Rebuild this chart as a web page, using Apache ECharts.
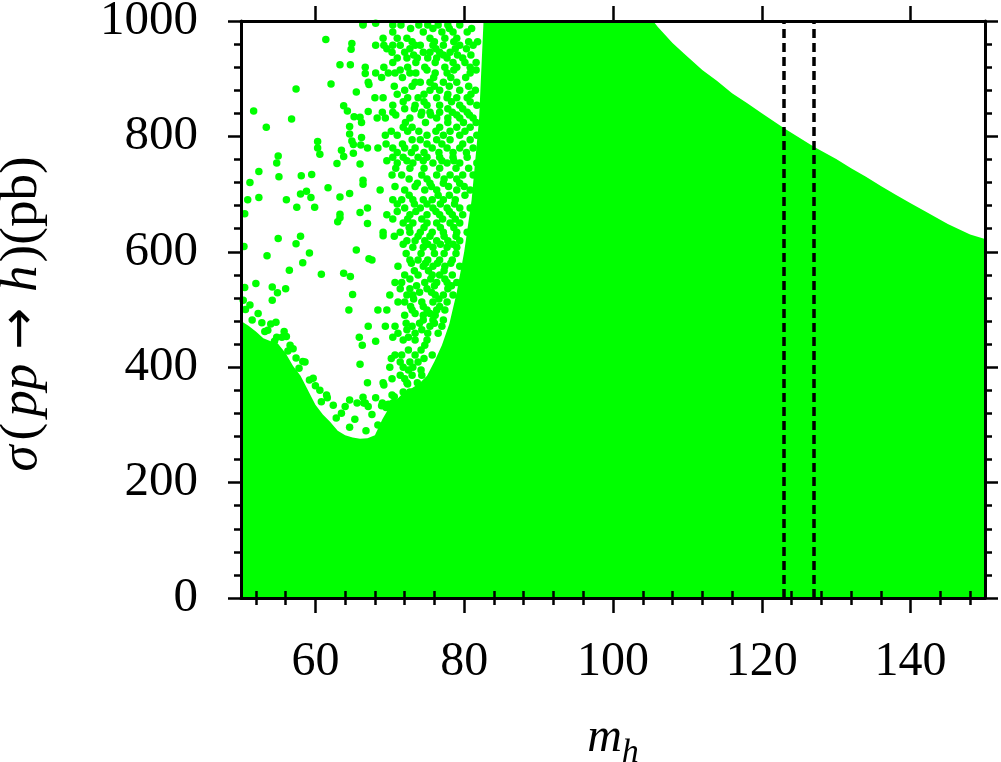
<!DOCTYPE html>
<html><head><meta charset="utf-8">
<script src="https://cdn.jsdelivr.net/npm/echarts@6/dist/echarts.min.js"></script>
<style>html,body{margin:0;padding:0;background:#fff}#c{width:1001px;height:762px}</style>
</head><body><div id="c"></div>
<script>
// ---- tick values ----
const xMajorTicks = [60, 80, 100, 120, 140];
const xMinorTicks = [52, 56, 64, 68, 72, 76, 84, 88, 92, 96, 104, 108, 112, 116, 124, 128, 132, 136, 144, 148];
const dashedMh = [123, 127];

// ---- upper envelope of the dense (solid) region ----
const boundaryMh = [50, 51, 52, 53, 54, 55, 56, 57, 58, 59, 60, 61, 62, 63, 64, 65, 66, 67, 68, 69, 70, 71, 72, 73, 74, 75, 76, 77, 78, 79, 80, 81, 82, 82.6, 105.4, 106, 108, 109.5, 112, 114, 116, 118, 120, 123, 127, 130, 132, 134, 136, 138, 140, 142, 145, 148, 150];
const boundarySigma = [480, 472, 462, 450, 445, 440, 424, 402, 385, 360, 335, 318, 305, 290, 282, 278, 276, 277, 282, 310, 332, 345, 358, 364, 372, 385, 410, 438, 475, 530, 600, 690, 830, 1000, 1000, 990, 962, 944, 915, 896, 875, 858, 840, 814, 782, 761, 745, 730, 714, 699, 684, 670, 648, 630, 622];

// ---- isolated points in the sparse region (m_h, sigma) ----
const sparseDots = [
[61.4,968],[64.9,961],[64.8,951],[63.3,924],[64.7,924],[66.7,920],[66.7,909],[57.4,882],[62.1,891],[67.2,890],
[65.5,877],[51.7,844],[56.8,830],[53.4,816],[63.8,853],[64.3,844],[65.2,834],[66.0,833],[67.1,843],[66.2,824],
[64.6,817],[64.6,804],[66.2,798],[64.9,792],[65.1,786],[66.1,785],[67.0,780],[60.3,791],[60.3,780],[60.6,769],
[63.5,776],[65.1,771],[63.8,765],[55.0,766],[54.8,754],[62.9,753],[66.0,752],[52.4,739],[58.1,732],[59.5,734],
[55.1,730],[51.2,720],[66.4,724],[66.4,717],[61.7,711],[58.8,705],[58.0,700],[59.4,694],[64.6,701],[63.3,695],
[52.4,694],[50.9,690],[56.1,690],[57.5,677],[59.9,677],[67.0,676],[50.5,666],[63.3,665],[63.3,659],[66.0,668],
[63.0,652],[67.0,649],[55.0,623],[58.0,627],[57.4,614],[50.4,609],[59.2,598],[53.5,593],[65.5,603],[58.3,581],
[67.2,588],[56.5,568],[60.8,561],[63.8,563],[64.7,557],[52.0,545],[54.2,539],[56.0,536],[50.5,538],[54.9,529],
[54.2,516],[65.0,526],[64.5,499],[67.1,471],[54.7,478],[56.1,453],[54.5,445],[65.9,452],[66.0,405],[67.0,373],
[64.6,343],[65.6,338],[66.5,338],[64.0,332],[66.4,995],[68.1,996],[69.1,628],[68.1,445],[69.2,369],[72.4,371],
[68.1,347],[70.6,349],[67.1,332],[68.9,333],[69.8,336],[70.7,338],
[50.3,516],[51.2,508],[52.8,477],[53.6,464],[55.5,452],[56.6,438],[57.4,416],[58.6,409],[59.7,381],[60.6,360],
[61.6,347],[62.4,334],
[50.6,500],[51.5,482],[52.3,493],[53.2,462],[54.0,475],[54.8,452],[55.8,462],[56.3,428],[57.0,432],[57.8,398],
[58.3,410],[59.2,378],[60.0,368],[60.8,340],[61.5,352],[62.8,312],[63.5,320],[64.6,296],[65.3,310],[66.8,290],
[67.6,318],[68.4,300],[69.5,330],[70.3,352]
];

// ---- the dense point cloud, read row by row: [sigma, [m_h ...]] ----
const cloudRows = [
[993,[66.4,70.4,71.5,73.9,75.1,76.5,77.8,79.4]],
[987,[72.8,75.8,78.0,81.0]],
[981,[70.4,74.5,77.0,78.5,80.4]],
[970,[69.1,71.0,72.3,75.4,77.4,79.0]],
[964,[73.0,76.0,78.6,80.6,81.8]],
[958,[68.1,69.2,70.4,71.4,73.4,74.1,75.8,77.2,79.4,81.2]],
[952,[69.6,72.7,76.2,78.8,80.3]],
[946,[70.3,72.0,74.5,75.4,76.7,78.1]],
[941,[73.2,77.2,79.1,80.9]],
[936,[71.0,72.3,73.7,75.1,76.3,77.7,79.8]],
[928,[70.4,73.5,76.1,78.5,80.1,81.6]],
[920,[69.2,72.4,74.7,77.4,79.0,80.8]],
[915,[71.4,75.0,78.6,81.6]],
[910,[68.1,69.8,70.7,72.7,73.5,76.1,77.7,80.8]],
[902,[68.9,71.7,75.9,78.2,80.2]],
[894,[67.1,73.4,74.1,75.4,77.2,79.0]],
[887,[70.6,73.0,76.0,78.0,80.6]],
[880,[72.0,75.4,76.7,79.4,81.5]],
[873,[71.0,74.6,77.8,80.9]],
[867,[68.0,69.1,72.4,73.8,76.3,77.7,79.0,80.4]],
[860,[71.8,74.6,78.3,80.8]],
[854,[70.4,73.4,75.0,76.7,79.4,81.7]],
[848,[72.0,73.3,77.8,79.8]],
[842,[69.0,70.4,74.3,75.4,76.7,78.4,80.4]],
[837,[70.8,74.2,75.5,79.0,80.7]],
[832,[68.3,69.4,72.7,76.3,77.8,79.4,81.2]],
[824,[72.1,74.8,77.8,79.9,81.6]],
[816,[71.8,73.0,76.7,79.0,80.8]],
[809,[70.2,72.4,73.9,76.2,78.1,80.1]],
[802,[69.4,71.0,75.0,77.2,79.4,81.7]],
[794,[73.0,74.1,76.3,78.1,80.8]],
[787,[69.5,71.7,75.0,77.0,79.8]],
[780,[68.4,70.4,72.0,73.4,75.7,77.7,79.4,81.2]],
[772,[71.0,72.9,74.6,76.6,78.5,80.3]],
[764,[70.4,71.8,73.8,75.0,76.7,78.5,80.4]],
[758,[69.6,72.3,74.5,77.0,78.6]],
[754,[71.0,73.1,75.8,77.7,79.4,81.7]],
[745,[70.8,72.7,74.6,76.7,78.9,80.6]],
[733,[70.3,71.6,74.3,76.3,78.1,79.8,81.2]],
[726,[72.6,75.0,77.3,79.0]],
[719,[73.7,75.4,77.2,79.4,82.1]],
[713,[70.7,73.4,75.6,77.9,80.0]],
[707,[68.7,72.0,74.7,76.3,79.0,80.8]],
[698,[72.6,76.5,78.0,80.1]],
[690,[70.4,71.6,73.1,74.5,75.7,77.2,78.8,81.7]],
[683,[71.0,73.3,75.0,76.8,78.7]],
[676,[72.0,74.1,75.8,77.7,79.4,80.8]],
[670,[71.0,73.5,76.2,78.0]],
[664,[69.6,72.7,75.0,76.7,78.4,79.8,81.7]],
[657,[70.4,72.4,74.3,77.1,78.8]],
[650,[71.8,73.1,75.0,76.3,78.1,79.4,81.2]],
[642,[72.6,74.6,76.8,78.6]],
[634,[69.1,71.4,72.7,74.1,75.7,77.2,79.0,80.4]],
[627,[70.6,73.8,75.4,77.3,78.9]],
[619,[72.3,73.4,74.7,76.3,77.8,79.4]],
[613,[71.8,75.1,76.8,78.5]],
[608,[73.1,74.5,75.8,77.7,79.0,80.8]],
[597,[72.2,74.2,76.0,77.3,78.9]],
[586,[67.6,72.7,73.8,75.1,76.7,78.4,80.4]],
[580,[72.9,74.8,76.4,78.2]],
[575,[71.1,74.5,75.8,77.4,79.4]],
[567,[73.3,75.2,77.3]],
[560,[72.0,73.8,75.7,76.7,78.4]],
[553,[72.7,75.5,77.4]],
[547,[70.7,71.6,74.7,76.3,77.7,79.0]],
[541,[73.6,76.0,78.3]],
[536,[71.4,72.7,75.0,77.8]],
[530,[74.0,75.6]],
[525,[70.0,72.3,73.1,76.1,77.2,78.5]],
[518,[73.2,76.6]],
[513,[71.1,72.0,74.3,75.8,77.7]],
[505,[72.8,74.5,76.7]],
[499,[68.4,69.6,73.0,75.0,76.3,77.4]],
[493,[73.4,75.4]],
[490,[72.0,74.5,76.1]],
[482,[74.5,75.8,77.2]],
[476,[72.2,74.0,76.0]],
[471,[69.4,70.7,73.0,75.4,77.0]],
[465,[72.3,74.3]],
[459,[71.1,73.4,75.1,76.5]],
[452,[70.4,72.5]],
[447,[71.8,73.4,75.0]],
[438,[66.3,74.7]],
[430,[72.5,74.2]],
[421,[70.7,71.6,73.4,75.7]],
[415,[70.2,74.6]],
[409,[71.4,72.7,73.8]],
[400,[70.0,71.8,73.1]],
[395,[72.5,74.2]],
[386,[71.4,73.0,74.3]],
[380,[70.3,72.0]],
[373,[69.1,72.3,73.7]],
[357,[71.8,72.7]],
[348,[66.4]],
[338,[66.7,69.0,70.4]]
];

// ---- build ----
const GREEN = '#00ff00';
const FONT = '"Liberation Serif","DejaVu Serif",serif';
const areaData = boundaryMh.map((m, i) => [m, boundarySigma[i]]);
const dotData = sparseDots.slice();
cloudRows.forEach(r => r[1].forEach(m => dotData.push([m, r[0]])));

const tickStyle = {color: '#000', width: 2.5};
const lineStyle = {color: '#000', width: 3};
function xAx(pos, ticks, len, opts) {
  return Object.assign({
    type: 'value', position: pos, min: 50, max: 150, z: 10,
    axisLine: {show: false},
    axisTick: {show: true, inside: false, length: len, lineStyle: tickStyle, customValues: ticks},
    axisLabel: {show: false, customValues: ticks},
    splitLine: {show: false}
  }, opts || {});
}
function yAx(pos, opts) {
  return Object.assign({
    type: 'value', position: pos, min: 0, max: 1000, interval: 200, z: 10,
    axisLine: {show: true, onZero: false, lineStyle: lineStyle},
    axisTick: {show: true, inside: false, length: 13, lineStyle: tickStyle},
    minorTick: {show: true, splitNumber: 5, length: 7, lineStyle: tickStyle},
    axisLabel: {show: false},
    splitLine: {show: false}
  }, opts || {});
}

const chart = echarts.init(document.getElementById('c'), null, {renderer: 'canvas'});
chart.setOption({
  animation: false,
  backgroundColor: '#fff',
  grid: {left: 241, right: 16, top: 21, bottom: 164, containLabel: false, outerBoundsMode: 'none'},
  xAxis: [
    xAx('bottom', xMajorTicks, 15, {
      axisLine: {show: true, onZero: false, lineStyle: lineStyle},
      axisLabel: {show: true, customValues: xMajorTicks, margin: 40, fontSize: 48, color: '#000', fontFamily: FONT,
                  formatter: v => String(v)},
      name: '{m|m}{s|h}', nameLocation: 'middle', nameGap: 108, nameMoveOverlap: false,
      nameTextStyle: {color: '#000', fontFamily: FONT, rich: {
        m: {fontSize: 48, fontStyle: 'italic', fontFamily: FONT, color: '#000'},
        s: {fontSize: 34, fontStyle: 'italic', fontFamily: FONT, color: '#000', padding: [30, 0, 0, 0]}
      }}
    }),
    xAx('bottom', xMinorTicks, 7),
    xAx('top', xMajorTicks, 15, {axisLine: {show: true, onZero: false, lineStyle: lineStyle}}),
    xAx('top', xMinorTicks, 7)
  ],
  yAxis: [
    yAx('left', {
      axisLabel: {show: true, margin: 43, fontSize: 49, color: '#000', fontFamily: FONT, formatter: v => String(v)},
      name: '{g|σ}({p|pp}{a|→}{h|h})(pb)', nameLocation: 'middle', nameGap: 192, nameRotate: 90, nameMoveOverlap: false,
      nameTextStyle: {color: '#000', fontSize: 53, fontFamily: FONT, padding: [0, 16, 0, 0], rich: {
        g: {fontSize: 53, fontStyle: 'italic', fontFamily: FONT, color: '#000', padding: [0, 5, 0, 7]},
        p: {fontSize: 53, fontStyle: 'italic', fontFamily: FONT, color: '#000', padding: [0, 12, 0, 6]},
        h: {fontSize: 53, fontStyle: 'italic', fontFamily: FONT, color: '#000', padding: [0, 3, 0, 14]},
        a: {fontSize: 50, fontFamily: '"DejaVu Sans", sans-serif', color: '#000', padding: [0, 2, 0, 2]}
      }}
    }),
    yAx('right')
  ],
  series: [
    {type: 'line', xAxisIndex: 0, yAxisIndex: 0, data: areaData, symbol: 'none', silent: true, z: 2,
     lineStyle: {width: 0, color: GREEN}, areaStyle: {color: GREEN, opacity: 1}},
    {type: 'scatter', xAxisIndex: 0, yAxisIndex: 0, data: dotData, symbol: 'circle', symbolSize: 7.5, silent: true, z: 3,
     itemStyle: {color: GREEN, opacity: 1}},
    {type: 'line', xAxisIndex: 0, yAxisIndex: 0, data: [], z: 5, silent: true,
     markLine: {silent: true, symbol: ['none', 'none'], label: {show: false},
       lineStyle: {color: '#000', width: 3.5, type: [9, 5]},
       data: dashedMh.map(v => ({xAxis: v}))}}
  ]
});
</script>
</body></html>
